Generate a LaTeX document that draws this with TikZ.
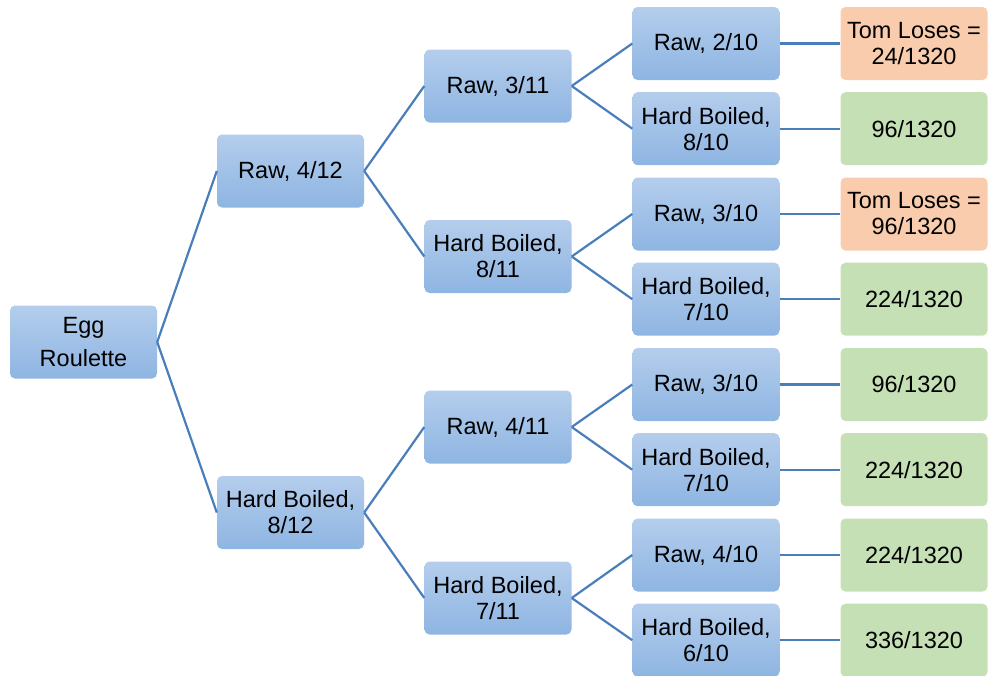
\documentclass[tikz,border=0pt]{standalone}
\usepackage{fontspec}
\setmainfont{Liberation Sans}
\definecolor{boxtop}{RGB}{180,205,236}
\definecolor{boxbot}{RGB}{142,181,226}
\definecolor{losefill}{RGB}{248,204,173}
\definecolor{winfill}{RGB}{198,224,181}
\definecolor{edge}{RGB}{74,126,187}
\begin{document}
\begin{tikzpicture}[x=1pt,y=-1pt,
  box/.style={rectangle, rounded corners=5pt, minimum width=147pt, minimum height=73pt,
    inner sep=0pt, align=center, font=\fontsize{23.5}{26}\selectfont},
  choice/.style={box, top color=boxtop, bottom color=boxbot},
  lose/.style={box, fill=losefill},
  win/.style={box, fill=winfill},
  link/.style={draw=edge, line width=2.2pt}]
\useasboundingbox (0,0) rectangle (988,675);
\clip (0,0) rectangle (988,675);
% root
\node[choice, font=\fontsize{23.5}{33}\selectfont] (root) at (83.5,342) {Egg\\Roulette};
% first egg
\node[choice] (a) at (290.5,171) {Raw, 4/12};
\node[choice] (b) at (290.5,512.5) {Hard Boiled,\\8/12};
% second egg
\node[choice] (aa) at (498,86) {Raw, 3/11};
\node[choice] (ab) at (498,256.5) {Hard Boiled,\\8/11};
\node[choice] (ba) at (498,427) {Raw, 4/11};
\node[choice] (bb) at (498,598) {Hard Boiled,\\7/11};
% third egg
\node[choice] (aaa) at (706,43.5) {Raw, 2/10};
\node[choice] (aab) at (706,128.7) {Hard Boiled,\\8/10};
\node[choice] (aba) at (706,214) {Raw, 3/10};
\node[choice] (abb) at (706,299.2) {Hard Boiled,\\7/10};
\node[choice] (baa) at (706,384.5) {Raw, 3/10};
\node[choice] (bab) at (706,469.7) {Hard Boiled,\\7/10};
\node[choice] (bba) at (706,555) {Raw, 4/10};
\node[choice] (bbb) at (706,640.2) {Hard Boiled,\\6/10};
% outcomes
\node[lose] (raaa) at (914,43.5) {Tom Loses =\\24/1320};
\node[win]  (raab) at (914,128.7) {96/1320};
\node[lose] (raba) at (914,214) {Tom Loses =\\96/1320};
\node[win]  (rabb) at (914,299.2) {224/1320};
\node[win]  (rbaa) at (914,384.5) {96/1320};
\node[win]  (rbab) at (914,469.7) {224/1320};
\node[win]  (rbba) at (914,555) {224/1320};
\node[win]  (rbbb) at (914,640.2) {336/1320};
% branches
\foreach \p/\c in {root/a, root/b, a/aa, a/ab, b/ba, b/bb,
  aa/aaa, aa/aab, ab/aba, ab/abb, ba/baa, ba/bab, bb/bba, bb/bbb}
  \draw[link] (\p.east) -- (\c.west);
\foreach \c in {aaa, aab, aba, abb, baa, bab, bba, bbb}
  \draw[link] (\c.east) -- (r\c.west);
\end{tikzpicture}
\end{document}
